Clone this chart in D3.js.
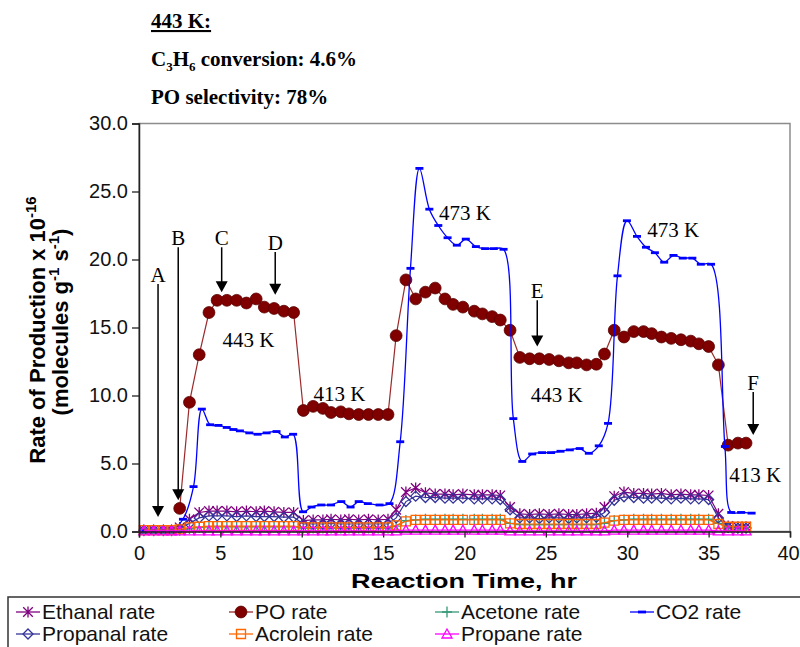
<!DOCTYPE html>
<html>
<head>
<meta charset="utf-8">
<script src="https://cdn.jsdelivr.net/npm/d3@7"></script>
<style>
  body { margin: 0; background: #fff; }
  svg { display: block; }
  .sans { font-family: "Liberation Sans", Arial, sans-serif; }
  .serif { font-family: "Liberation Serif", "Times New Roman", serif; }
</style>
</head>
<body>
<div id="chart"></div>
<script>
// sampling times (hr) shared by PO and the minor products
const sampleTime = [0.3, 0.9, 1.5, 2.0,
  2.5, 3.1, 3.7, 4.3, 4.8, 5.4, 6.0, 6.6, 7.2, 7.7, 8.3, 8.9, 9.5,
  10.1, 10.7, 11.3, 11.8, 12.4, 12.9, 13.5, 14.1, 14.7, 15.3,
  15.8, 16.4, 17.0, 17.6, 18.2, 18.8, 19.3, 19.9, 20.6, 21.1, 21.7, 22.2, 22.8,
  23.4, 24.0, 24.6, 25.2, 25.8, 26.4, 26.9, 27.5, 28.1,
  28.6, 29.2, 29.8, 30.4, 31.0, 31.5, 32.1, 32.7, 33.3, 33.9, 34.4, 35.0, 35.6,
  36.2, 36.8, 37.3];

const poRate = [null, null, null, null,
  1.7, 9.5, 13.0, 16.1, 17.0, 17.0, 17.0, 16.8, 17.1, 16.5, 16.4, 16.2, 16.1,
  8.9, 9.2, 9.05, 8.75, 8.8, 8.65, 8.6, 8.6, 8.6, 8.6,
  14.4, 18.5, 17.1, 17.6, 17.9, 17.1, 16.7, 16.5, 16.2, 16.0, 15.8, 15.55, 14.8,
  12.8, 12.7, 12.7, 12.65, 12.55, 12.4, 12.4, 12.25, 12.3,
  13.05, 14.8, 14.3, 14.7, 14.7, 14.55, 14.3, 14.2, 14.1, 14.0, 13.8, 13.6, 12.25,
  6.35, 6.5, 6.5];

const ethanalRate = [0.1, 0.1, 0.1, 0.1,
  0.3, 0.9, 1.4, 1.5, 1.5, 1.5, 1.45, 1.5, 1.45, 1.5, 1.45, 1.4, 1.4,
  0.8, 0.85, 0.85, 0.9, 0.85, 0.9, 0.85, 0.9, 0.85, 0.9,
  1.6, 2.9, 3.2, 2.85, 2.75, 2.75, 2.7, 2.75, 2.7, 2.7, 2.7, 2.65, 1.8,
  1.3, 1.25, 1.3, 1.25, 1.3, 1.25, 1.25, 1.3, 1.35,
  1.8, 2.6, 2.9, 2.8, 2.8, 2.75, 2.8, 2.7, 2.75, 2.7, 2.7, 2.65, 1.3,
  0.4, 0.35, 0.35];

const propanalRate = [0.1, 0.1, 0.1, 0.1,
  0.2, 0.6, 1.0, 1.15, 1.15, 1.15, 1.1, 1.15, 1.1, 1.1, 1.1, 1.05, 1.05,
  0.55, 0.55, 0.55, 0.6, 0.55, 0.55, 0.55, 0.55, 0.55, 0.55,
  1.0, 2.2, 2.6, 2.5, 2.5, 2.45, 2.45, 2.45, 2.4, 2.4, 2.4, 2.35, 1.6,
  1.0, 1.0, 0.95, 1.0, 1.0, 0.95, 1.0, 1.0, 1.05,
  1.4, 2.3, 2.55, 2.5, 2.45, 2.45, 2.45, 2.4, 2.45, 2.4, 2.4, 2.35, 1.0,
  0.3, 0.25, 0.25];

const acetoneRate = [0.05, 0.05, 0.05, 0.05,
  0.1, 0.2, 0.3, 0.35, 0.35, 0.35, 0.35, 0.35, 0.35, 0.35, 0.35, 0.35, 0.35,
  0.25, 0.25, 0.25, 0.25, 0.25, 0.25, 0.25, 0.25, 0.25, 0.25,
  0.4, 0.8, 0.85, 0.9, 0.9, 0.9, 0.9, 0.9, 0.9, 0.9, 0.9, 0.9, 0.6,
  0.5, 0.5, 0.5, 0.5, 0.5, 0.5, 0.5, 0.5, 0.5,
  0.6, 0.8, 0.85, 0.9, 0.9, 0.9, 0.9, 0.9, 0.9, 0.9, 0.9, 0.9, 0.6,
  0.3, 0.3, 0.3];

const acroleinRate = [0.1, 0.1, 0.1, 0.1,
  0.15, 0.3, 0.35, 0.4, 0.4, 0.4, 0.4, 0.4, 0.4, 0.4, 0.4, 0.4, 0.4,
  0.3, 0.3, 0.3, 0.3, 0.3, 0.3, 0.3, 0.3, 0.3, 0.3,
  0.45, 0.75, 0.85, 0.85, 0.85, 0.85, 0.85, 0.85, 0.85, 0.85, 0.85, 0.85, 0.6,
  0.55, 0.55, 0.55, 0.55, 0.55, 0.55, 0.55, 0.55, 0.55,
  0.65, 0.8, 0.85, 0.85, 0.85, 0.85, 0.85, 0.85, 0.85, 0.85, 0.85, 0.85, 0.55,
  0.35, 0.35, 0.35];

const propaneRate = [0.05, 0.05, 0.05, 0.05,
  0.05, 0.05, 0.05, 0.05, 0.05, 0.05, 0.05, 0.05, 0.05, 0.05, 0.05, 0.05, 0.05,
  0.05, 0.05, 0.05, 0.05, 0.05, 0.05, 0.05, 0.05, 0.05, 0.05,
  0.05, 0.1, 0.1, 0.1, 0.1, 0.1, 0.1, 0.1, 0.1, 0.1, 0.1, 0.1, 0.05,
  0.05, 0.05, 0.05, 0.05, 0.05, 0.05, 0.05, 0.05, 0.05,
  0.05, 0.1, 0.1, 0.1, 0.1, 0.1, 0.1, 0.1, 0.1, 0.1, 0.1, 0.1, 0.05,
  0.05, 0.05, 0.05];

// CO2 was logged on its own clock
const co2Time = [0.3, 0.9, 1.5, 2.0, 2.7, 3.35, 3.86, 4.37, 4.88, 5.39, 5.8, 6.2, 6.78, 7.29, 7.84, 8.45, 8.96, 9.47,
  10.08, 10.6, 11.2, 11.8, 12.43, 13.0, 13.5, 14.06, 14.78, 15.39,
  16.05, 16.68, 17.23, 17.84, 18.39, 18.96, 19.53, 20.08, 20.7, 21.27, 21.8, 22.4,
  23.0, 23.55, 24.16, 24.77, 25.32, 25.9, 26.47, 27.08, 27.64, 28.25,
  28.82, 29.4, 29.98, 30.6, 31.15, 31.7, 32.27, 32.84, 33.41, 34.0, 34.52, 35.15,
  36.0, 36.39, 37.0, 37.64];
const co2Rate = [0.05, 0.05, 0.05, 0.1, 0.9, 3.3, 9.0, 7.85, 7.8, 7.65, 7.5, 7.4, 7.25, 7.15, 7.25, 7.35, 6.95, 7.15,
  1.45, 1.8, 1.95, 1.95, 2.2, 1.8, 2.2, 2.05, 1.95, 2.05,
  6.6, 19.35, 26.7, 23.7, 22.5, 21.6, 21.05, 21.5, 20.95, 20.8, 20.8, 20.75,
  8.3, 5.15, 5.7, 5.8, 5.8, 5.9, 6.0, 6.1, 5.75, 6.3,
  7.95, 18.8, 22.85, 21.7, 20.9, 20.5, 19.8, 20.3, 20.1, 20.1, 19.65, 19.65,
  6.25, 1.4, 1.4, 1.35];

const yTicks = [0, 5, 10, 15, 20, 25, 30];
const xTicks = [0, 5, 10, 15, 20, 25, 30, 35, 40];

// letters marking the sampling moments, and the bed temperatures
const arrowNotes = [
  { label: "A", t: 1.17, top: 18.2, tip: 1.07 },
  { label: "B", t: 2.41, top: 20.9, tip: 2.3 },
  { label: "C", t: 5.08, top: 20.9, tip: 17.6 },
  { label: "D", t: 8.37, top: 20.55, tip: 17.4 },
  { label: "E", t: 24.47, top: 17.0, tip: 13.6 },
  { label: "F", t: 37.74, top: 10.25, tip: 7.1 }
];
const tempNotes = [
  { text: "443 K", t: 6.72, v: 13.57 },
  { text: "413 K", t: 12.31, v: 9.57 },
  { text: "473 K", t: 20.03, v: 22.93 },
  { text: "443 K", t: 25.67, v: 9.52 },
  { text: "473 K", t: 32.83, v: 21.65 },
  { text: "413 K", t: 37.87, v: 3.64 }
];

const series = [
  { name: "Ethanal rate", values: ethanalRate, color: "#800080", marker: "star" },
  { name: "PO rate", values: poRate, color: "#800000", marker: "circle" },
  { name: "Acetone rate", values: acetoneRate, color: "#339977", marker: "plus" },
  { name: "CO2 rate", values: co2Rate, time: co2Time, color: "#0000ff", marker: "dash" },
  { name: "Propanal rate", values: propanalRate, color: "#333399", marker: "diamond" },
  { name: "Acrolein rate", values: acroleinRate, color: "#ff6600", marker: "square" },
  { name: "Propane rate", values: propaneRate, color: "#ff00ff", marker: "triangle" }
];

const W = 800, H = 647;
const svg = d3.select("#chart").append("svg").attr("width", W).attr("height", H);

const x = d3.scaleLinear().domain([0, 40]).range([139, 790]);
const y = d3.scaleLinear().domain([0, 30]).range([531.5, 123.5]);

function markerPath(type) {
  switch (type) {
    case "star": return "M0,-5.5V5.5M-4.8,-4.8L4.8,4.8M-4.8,4.8L4.8,-4.8";
    case "plus": return "M-5,0H5M0,-5.5V5.5";
    case "diamond": return "M0,-5L5,0L0,5L-5,0Z";
    case "square": return "M-4.5,-4.5H4.5V4.5H-4.5Z";
    case "triangle": return "M0,-5L5,4L-5,4Z";
    case "dash": return "M-4,-1.4H4V1.4H-4Z";
    default: return d3.symbol(d3.symbolCircle, 110)();
  }
}
function styleMarker(sel, s) {
  if (s.marker === "circle" || s.marker === "dash") {
    sel.attr("fill", s.color).attr("stroke", s.marker === "circle" ? "#5a0000" : "none").attr("stroke-width", 0.8);
  } else {
    sel.attr("fill", "none").attr("stroke", s.color).attr("stroke-width", 1.3);
  }
}

// plot frame
svg.append("rect").attr("x", 139).attr("y", 123.5).attr("width", 651).attr("height", 408)
  .attr("fill", "none").attr("stroke", "#8c8c8c").attr("stroke-width", 1.5);

// series, drawn in legend order
series.forEach(s => {
  const tArr = s.time || sampleTime;
  const pts = tArr.map((t, i) => ({ t: t, v: s.values[i] })).filter(d => d.v != null);
  const line = d3.line().x(d => x(d.t)).y(d => y(d.v))
    .curve(s.marker === "dash" ? d3.curveCatmullRom.alpha(0.5) : d3.curveLinear);
  svg.append("path").datum(pts).attr("d", line).attr("fill", "none")
    .attr("stroke", s.marker === "circle" ? "#9b2a2a" : s.color)
    .attr("stroke-width", s.marker === "dash" ? 1.3 : 1.2);
  const m = svg.append("g").selectAll("path").data(pts).join("path")
    .attr("d", markerPath(s.marker))
    .attr("transform", d => `translate(${x(d.t)},${y(d.v)})`);
  styleMarker(m, s);
});

// axes
const yAxis = svg.append("g").attr("transform", "translate(139,0)")
  .call(d3.axisLeft(y).tickValues(yTicks).tickFormat(d3.format(".1f")).tickSize(7).tickPadding(4));
const xAxis = svg.append("g").attr("transform", "translate(0,531.5)")
  .call(d3.axisBottom(x).tickValues(xTicks).tickFormat(d3.format("d")).tickSize(6).tickPadding(8));
[yAxis, xAxis].forEach(a => {
  a.select(".domain").attr("stroke", "#222").attr("stroke-width", 1.5);
  a.selectAll(".tick line").attr("stroke", "#222").attr("stroke-width", 1.3);
  a.selectAll(".tick text").attr("class", "sans").attr("font-size", 20).attr("fill", "#111");
});
xAxis.selectAll(".tick text").filter(d => d === 40).attr("dx", -2);

// axis titles
svg.append("text").attr("class", "sans").attr("x", 464).attr("y", 588)
  .attr("text-anchor", "middle").attr("font-size", 21).attr("font-weight", "bold")
  .attr("textLength", 226).attr("lengthAdjust", "spacingAndGlyphs")
  .text("Reaction Time, hr");

const yt1 = svg.append("text").attr("class", "sans").attr("font-size", 22).attr("font-weight", "bold")
  .attr("text-anchor", "middle").attr("transform", "translate(45,330) rotate(-90)");
yt1.append("tspan").text("Rate of Production x 10");
yt1.append("tspan").attr("font-size", 15).attr("dy", -9).text("-16");
const yt2 = svg.append("text").attr("class", "sans").attr("font-size", 22).attr("font-weight", "bold")
  .attr("text-anchor", "middle").attr("transform", "translate(68,322) rotate(-90)");
yt2.append("tspan").text("(molecules g");
yt2.append("tspan").attr("font-size", 15).attr("dy", -9).text("-1");
yt2.append("tspan").attr("dy", 9).text(" s");
yt2.append("tspan").attr("font-size", 15).attr("dy", -9).text("-1");
yt2.append("tspan").attr("dy", 9).text(")");

// header notes
svg.append("text").attr("class", "serif").attr("x", 151).attr("y", 28)
  .attr("font-size", 21).attr("font-weight", "bold").attr("text-decoration", "underline")
  .text("443 K:");
const conv = svg.append("text").attr("class", "serif").attr("x", 151).attr("y", 66)
  .attr("font-size", 21).attr("font-weight", "bold");
conv.append("tspan").text("C");
conv.append("tspan").attr("font-size", 13).attr("dy", 5).text("3");
conv.append("tspan").attr("dy", -5).text("H");
conv.append("tspan").attr("font-size", 13).attr("dy", 5).text("6");
conv.append("tspan").attr("dy", -5).text(" conversion: 4.6%");
svg.append("text").attr("class", "serif").attr("x", 151).attr("y", 104)
  .attr("font-size", 21).attr("font-weight", "bold").text("PO selectivity: 78%");

// arrows with letters
arrowNotes.forEach(a => {
  const ax = x(a.t), yTop = y(a.top), yTip = y(a.tip);
  svg.append("line").attr("x1", ax).attr("x2", ax).attr("y1", yTop).attr("y2", yTip - 8)
    .attr("stroke", "#000").attr("stroke-width", 1.5);
  svg.append("path").attr("d", `M${ax - 6},${yTip - 11}L${ax + 6},${yTip - 11}L${ax},${yTip}Z`)
    .attr("fill", "#000");
  svg.append("text").attr("class", "serif").attr("x", ax).attr("y", yTop - 2)
    .attr("text-anchor", "middle").attr("font-size", 21).text(a.label);
});

// temperature labels
tempNotes.forEach(n => {
  svg.append("text").attr("class", "serif").attr("x", x(n.t)).attr("y", y(n.v))
    .attr("text-anchor", "middle").attr("font-size", 21).text(n.text);
});

// legend
const lg = svg.append("g");
lg.append("rect").attr("x", 8).attr("y", 597).attr("width", 810).attr("height", 70)
  .attr("fill", "#fff").attr("stroke", "#333").attr("stroke-width", 1.5);
const colX = [28, 241, 447, 642];
series.forEach((s, i) => {
  const row = i < 4 ? 0 : 1, col = i < 4 ? i : i - 4;
  const cx = colX[col], cy = row === 0 ? 612 : 634;
  lg.append("line").attr("x1", cx - 12).attr("x2", cx + 12).attr("y1", cy).attr("y2", cy)
    .attr("stroke", s.marker === "circle" ? "#9b2a2a" : s.color).attr("stroke-width", 1.3);
  const m = lg.append("path").attr("d", markerPath(s.marker)).attr("transform", `translate(${cx},${cy})`);
  styleMarker(m, s);
  lg.append("text").attr("class", "sans").attr("x", cx + 14).attr("y", cy + 7)
    .attr("font-size", 21).attr("fill", "#111").text(s.name);
});
</script>
</body>
</html>
